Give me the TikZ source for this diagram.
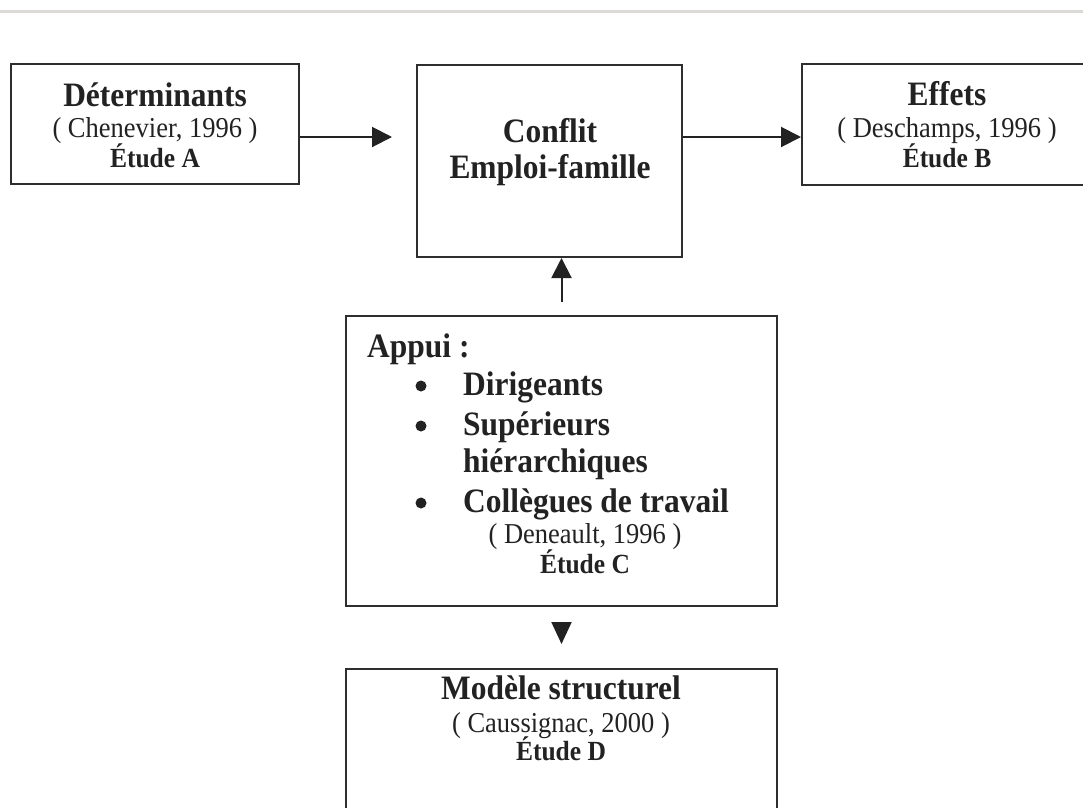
\documentclass[tikz,border=0pt]{standalone}
\usepackage{fontspec}
\setmainfont{Liberation Serif}
\newfontfamily\narrowserif[FakeStretch=0.92]{Liberation Serif}
\usetikzlibrary{arrows.meta,calc}

\definecolor{ink}{HTML}{222222}
\definecolor{frame}{HTML}{2E2E2E}
\definecolor{rule}{HTML}{DCDAD6}

\tikzset{
  box/.style={draw=frame, line width=2pt, rectangle, inner sep=0pt},
  arr/.style={draw=ink, line width=2pt,
    -{Triangle[length=20pt,width=20pt]}},
  headonly/.style={draw=ink, line width=2pt,
    -{Triangle[length=22pt,width=20pt]}},
  titletext/.style={text=ink, inner sep=0pt, anchor=base,
    font=\narrowserif\fontsize{34.2}{38}\selectfont\bfseries},
  citetext/.style={text=ink, inner sep=0pt, anchor=base,
    font=\narrowserif\fontsize{28.8}{32}\selectfont},
  studytext/.style={text=ink, inner sep=0pt, anchor=base,
    font=\narrowserif\fontsize{27.7}{32}\selectfont\bfseries},
  itemtext/.style={text=ink, inner sep=0pt, anchor=base west,
    font=\narrowserif\fontsize{34.2}{38}\selectfont\bfseries},
  dot/.style={fill=ink, circle, inner sep=0pt, minimum size=11pt},
}

\begin{document}
\begin{tikzpicture}[x=1pt, y=-1pt]
  \useasboundingbox (0,0) rectangle (1083,807);
  \fill[white] (0,0) rectangle (1083,807);

  % thin rule along the top
  \draw[rule, line width=3pt] (0,11) -- (1083,11);

  % boxes
  \node[box, minimum width=288pt, minimum height=120pt] (detA) at (155,124) {};
  \node[box, minimum width=265pt, minimum height=192pt] (conflit) at (549.5,161) {};
  \node[box, minimum width=290pt, minimum height=121pt] (effets) at (947,124.5) {};
  \node[box, minimum width=431pt, minimum height=290pt] (appui) at (561.5,461) {};
  \node[box, minimum width=431pt, minimum height=170pt] (modele) at (561.5,754) {};

  % Déterminants
  \node[titletext] (tA1) at (155,106) {Déterminants};
  \node[citetext]  (tA2) at (155,137) {( Chenevier, 1996 )};
  \node[studytext] (tA3) at (155,167) {Étude A};

  % Conflit
  \node[titletext] (tC1) at (550,142) {Conflit};
  \node[titletext] (tC2) at (550,178) {Emploi-famille};

  % Effets
  \node[titletext] (tB1) at (947,105) {Effets};
  \node[citetext]  (tB2) at (947,137) {( Deschamps, 1996 )};
  \node[studytext] (tB3) at (947,167) {Étude B};

  % Appui
  \node[itemtext] (ap0) at (367,357) {Appui :};
  \node[dot] (b1) at (421,386) {};
  \node[itemtext] (ap1) at (463,395) {Dirigeants};
  \node[dot] (b2) at (421,426) {};
  \node[itemtext] (ap2) at (463,435) {Supérieurs};
  \node[itemtext] (ap3) at (463,472) {hiérarchiques};
  \node[dot] (b3) at (421,503) {};
  \node[itemtext] (ap4) at (463,512) {Collègues de travail};
  \node[citetext]  (ap5) at (585,543) {( Deneault, 1996 )};
  \node[studytext] (ap6) at (585,573) {Étude C};

  % Modèle structurel
  \node[titletext] (tD1) at (561,699) {Modèle structurel};
  \node[citetext]  (tD2) at (561,732) {( Caussignac, 2000 )};
  \node[studytext] (tD3) at (561,760) {Étude D};

  % connectors
  \coordinate (ya) at ($(detA.east)+(0,13)$);
  \draw[arr] (ya) -- ($(ya -| conflit.west)+(-24,0)$);
  \coordinate (yb) at ($(conflit.east |- ya)$);
  \draw[arr] (yb) -- (yb -| effets.west);
  \draw[arr] ($(appui.north)+(0,-13)$) -- (appui.north |- conflit.south);
  \draw[headonly] ($(appui.south)+(0,15)$) -- ($(appui.south)+(0,37)$);
\end{tikzpicture}
\end{document}
